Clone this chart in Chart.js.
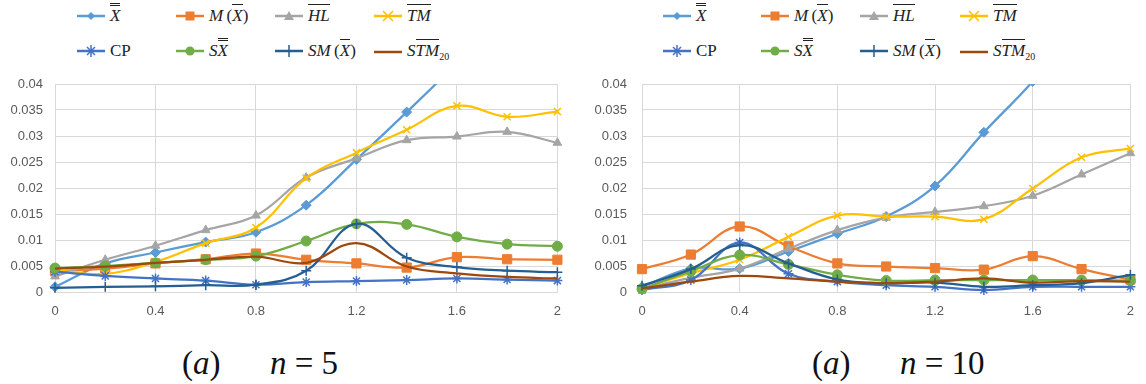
<!DOCTYPE html>
<html>
<head>
<meta charset="utf-8">
<script src="https://cdn.jsdelivr.net/npm/chart.js@4.4.1/dist/chart.umd.min.js"></script>
<style>
  body { margin: 0; background: #fff; width: 1146px; height: 384px; overflow: hidden; position: relative; }
  .box { position: absolute; top: 60px; width: 573px; height: 270px; }
  .leg { position: absolute; display: flex; align-items: center; font-family: "Liberation Serif", "DejaVu Serif", serif; font-size: 17px; color: #222; white-space: nowrap; }
  .leg canvas { margin-right: 5px; }
  .o1 { border-top: 1px solid #222; padding-top: 1px; }
  .o2 { border-top: 3px double #222; padding-top: 0px; }
  .leg sub { font-size: 10px; font-style: normal; }
  .cap { position: absolute; top: 345px; font-family: "Liberation Serif", "DejaVu Serif", serif; font-size: 33px; color: #111; white-space: nowrap; }
</style>
</head>
<body>
<div id="legend5"></div>
<div id="legend10"></div>
<div class="box" style="left:0"><canvas id="chart5"></canvas></div>
<div class="box" style="left:573px"><canvas id="chart10"></canvas></div>
<div class="cap" style="left:182px">(<i>a</i>)&ensp;&emsp;<i>n</i> = 5</div>
<div class="cap" style="left:812px">(<i>a</i>)&ensp;&emsp;<i>n</i> = 10</div>

<script>
// x positions (shift) and axis ticks
const xValues = [0, 0.2, 0.4, 0.6, 0.8, 1.0, 1.2, 1.4, 1.6, 1.8, 2.0];
const xTickStep = 0.4;
const yTickStep = 0.005;
const yMax = 0.04;

// legend labels (html, so the overlines stay real text)
const seriesLabels = [
  '<i class="o2">X</i>',
  '<i>M</i>&thinsp;(<i class="o1">X</i>)',
  '<i class="o1">HL</i>',
  '<i class="o1">TM</i>',
  'CP',
  '<i>S</i><i class="o2">X</i>',
  '<i>SM</i>&thinsp;(<i class="o1">X</i>)',
  '<i>S</i><i class="o1">TM</i><sub>20</sub>'
];
const seriesColors = ['#5B9BD5', '#ED7D31', '#A5A5A5', '#FFC000', '#4472C4', '#70AD47', '#255E91', '#9E480E'];
const seriesMarkers = ['rectRot', 'rect', 'triangle', 'crossRot', 'star', 'circle', 'cross', false];

// n = 5
const n5_X   = [0.001, 0.0055, 0.0076, 0.0096, 0.0115, 0.0167, 0.0255, 0.0346, 0.0440, 0.0540, 0.0640];
const n5_MX  = [0.0040, 0.0045, 0.0055, 0.0063, 0.0074, 0.0062, 0.0055, 0.0047, 0.0067, 0.0063, 0.0062];
const n5_HL  = [0.0030, 0.0062, 0.0089, 0.0119, 0.0147, 0.0220, 0.0257, 0.0292, 0.0299, 0.0308, 0.0287];
const n5_TM  = [0.0042, 0.0035, 0.0058, 0.0094, 0.0124, 0.0219, 0.0268, 0.0312, 0.0358, 0.0337, 0.0347];
const n5_CP  = [0.0039, 0.0031, 0.0026, 0.0022, 0.0014, 0.0019, 0.0021, 0.0023, 0.0026, 0.0024, 0.0022];
const n5_SX  = [0.0046, 0.0050, 0.0056, 0.0062, 0.0069, 0.0098, 0.0131, 0.0130, 0.0106, 0.0092, 0.0088];
const n5_SMX = [0.0008, 0.0010, 0.0011, 0.0013, 0.0014, 0.0041, 0.0131, 0.0066, 0.0048, 0.0041, 0.0038];
const n5_STM = [0.0045, 0.0049, 0.0056, 0.0062, 0.0068, 0.0056, 0.0094, 0.0049, 0.0036, 0.0029, 0.0026];

// n = 10
const n10_X   = [0.0010, 0.0045, 0.0045, 0.0078, 0.0112, 0.0145, 0.0204, 0.0307, 0.0405, 0.0520, 0.0650];
const n10_MX  = [0.0044, 0.0072, 0.0126, 0.0088, 0.0055, 0.0049, 0.0046, 0.0043, 0.0069, 0.0044, 0.0024];
const n10_HL  = [0.0007, 0.0027, 0.0045, 0.0083, 0.0119, 0.0143, 0.0154, 0.0165, 0.0185, 0.0226, 0.0267];
const n10_TM  = [0.0007, 0.0036, 0.0062, 0.0106, 0.0147, 0.0145, 0.0145, 0.0140, 0.0199, 0.0259, 0.0276];
const n10_CP  = [0.0004, 0.0023, 0.0095, 0.0035, 0.0020, 0.0013, 0.0010, 0.0004, 0.0010, 0.0010, 0.0010];
const n10_SX  = [0.0006, 0.0040, 0.0071, 0.0053, 0.0033, 0.0022, 0.0023, 0.0023, 0.0023, 0.0023, 0.0022];
const n10_SMX = [0.0012, 0.0044, 0.0090, 0.0055, 0.0024, 0.0017, 0.0018, 0.0010, 0.0013, 0.0017, 0.0033];
const n10_STM = [0.0007, 0.0020, 0.0031, 0.0026, 0.0020, 0.0017, 0.0020, 0.0026, 0.0018, 0.0021, 0.0020];

const n5Series  = [n5_X, n5_MX, n5_HL, n5_TM, n5_CP, n5_SX, n5_SMX, n5_STM];
const n10Series = [n10_X, n10_MX, n10_HL, n10_TM, n10_CP, n10_SX, n10_SMX, n10_STM];

// small marker sample for the html legend
function drawSample(canvas, color, marker) {
  const ctx = canvas.getContext("2d");
  const cx = 14, cy = 7;
  ctx.strokeStyle = color;
  ctx.fillStyle = color;
  ctx.lineWidth = 2.5;
  ctx.beginPath();
  ctx.moveTo(0, cy);
  ctx.lineTo(28, cy);
  ctx.stroke();
  ctx.lineWidth = 1.5;
  ctx.beginPath();
  if (marker === 'rectRot') {
    ctx.moveTo(cx, cy - 4); ctx.lineTo(cx + 4, cy); ctx.lineTo(cx, cy + 4); ctx.lineTo(cx - 4, cy); ctx.closePath(); ctx.fill();
  } else if (marker === 'rect') {
    ctx.fillRect(cx - 4.5, cy - 4.5, 9, 9);
  } else if (marker === 'triangle') {
    ctx.moveTo(cx, cy - 5); ctx.lineTo(cx + 5, cy + 4); ctx.lineTo(cx - 5, cy + 4); ctx.closePath(); ctx.fill();
  } else if (marker === 'crossRot') {
    ctx.moveTo(cx - 5, cy - 5); ctx.lineTo(cx + 5, cy + 5); ctx.moveTo(cx + 5, cy - 5); ctx.lineTo(cx - 5, cy + 5); ctx.stroke();
  } else if (marker === 'star') {
    ctx.moveTo(cx - 4, cy - 4); ctx.lineTo(cx + 4, cy + 4); ctx.moveTo(cx + 4, cy - 4); ctx.lineTo(cx - 4, cy + 4);
    ctx.moveTo(cx, cy - 6); ctx.lineTo(cx, cy + 6); ctx.stroke();
  } else if (marker === 'circle') {
    ctx.arc(cx, cy, 4.5, 0, Math.PI * 2); ctx.fill();
  } else if (marker === 'cross') {
    ctx.moveTo(cx, cy - 6); ctx.lineTo(cx, cy + 6); ctx.stroke();
  }
}

function buildLegend(id, cols, rows) {
  const holder = document.getElementById(id);
  seriesLabels.forEach((label, i) => {
    const item = document.createElement("div");
    item.className = "leg";
    item.style.left = cols[i % 4] + "px";
    item.style.top = rows[Math.floor(i / 4)] + "px";
    const c = document.createElement("canvas");
    c.width = 28; c.height = 14;
    drawSample(c, seriesColors[i], seriesMarkers[i]);
    item.appendChild(c);
    const span = document.createElement("span");
    span.innerHTML = label;
    item.appendChild(span);
    holder.appendChild(item);
  });
}

buildLegend("legend5", [77, 176, 275, 374], [6, 41]);
buildLegend("legend10", [663, 761, 860, 960], [6, 41]);

function makeChart(canvasId, series, yAxisWidth, padRight) {
  const datasets = series.map((values, i) => ({
    label: seriesLabels[i],
    data: xValues.map((x, j) => ({ x: x, y: values[j] })),
    borderColor: seriesColors[i],
    backgroundColor: seriesColors[i],
    borderWidth: 2.25,
    tension: 0.4,
    pointStyle: seriesMarkers[i],
    pointRadius: seriesMarkers[i] ? (seriesMarkers[i] === 'rect' ? 6.5 : 5) : 0,
    pointBorderWidth: seriesMarkers[i] === 'crossRot' || seriesMarkers[i] === 'star' || seriesMarkers[i] === 'cross' ? 1.5 : 1,
    pointBorderColor: seriesColors[i],
    pointBackgroundColor: seriesColors[i],
    order: series.length - i,
    clip: { left: 10, right: 10, top: 0, bottom: 10 }
  }));

  return new Chart(document.getElementById(canvasId), {
    type: "line",
    data: { datasets: datasets },
    options: {
      responsive: true,
      maintainAspectRatio: false,
      animation: false,
      layout: { padding: { top: 24, right: padRight, left: 0, bottom: 0 } },
      plugins: { legend: { display: false }, tooltip: { enabled: false } },
      scales: {
        x: {
          type: "linear",
          min: 0,
          max: 2,
          ticks: {
            stepSize: xTickStep,
            padding: 12,
            color: "#595959",
            font: { family: "Liberation Sans", size: 13 },
            callback: (v) => String(+v.toFixed(1))
          },
          grid: { color: "#D9D9D9", drawTicks: false },
          border: { color: "#D9D9D9" },
          afterFit: (scale) => { scale.height = 38; }
        },
        y: {
          min: 0,
          max: yMax,
          ticks: {
            stepSize: yTickStep,
            padding: yAxisWidth === 55 ? 12 : 15,
            color: "#595959",
            font: { family: "Liberation Sans", size: 13 },
            callback: (v) => String(+v.toFixed(3))
          },
          grid: { color: "#D9D9D9", drawTicks: false },
          border: { color: "#D9D9D9" },
          afterFit: (scale) => { scale.width = yAxisWidth; }
        }
      }
    }
  });
}

makeChart("chart5", n5Series, 55, 11);
makeChart("chart10", n10Series, 69, 4);
</script>
</body>
</html>
